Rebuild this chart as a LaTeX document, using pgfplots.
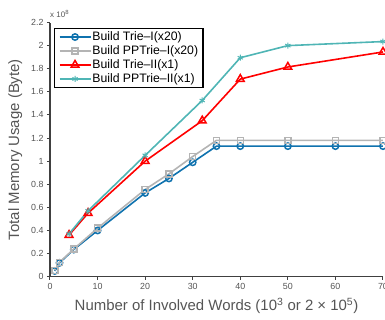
\documentclass[border=0pt]{standalone}
\usepackage{fontspec}
\setmainfont{Liberation Sans}
\usepackage{pgfplots}
\pgfplotsset{compat=1.18}
\definecolor{cblue}{HTML}{0F72AE}
\definecolor{cgray}{HTML}{B4B4B4}
\definecolor{cred}{HTML}{FF0000}
\definecolor{cteal}{HTML}{4FB5B5}
\definecolor{txtgray}{HTML}{555555}
\definecolor{axgray}{HTML}{404040}
\begin{document}
\begin{tikzpicture}
\begin{axis}[
  at={(0,0)}, anchor=south west,
  scale only axis, width=333bp, height=254.2bp,
  xmin=0, xmax=70, ymin=0, ymax=2.2,
  xtick={0,10,...,70},
  ytick={0,0.2,...,2.2},
  yticklabels={0,0.2,0.4,0.6,0.8,1,1.2,1.4,1.6,1.8,2,2.2},
  scaled y ticks=false,
  axis lines*=left,
  axis line style={axgray, line width=1.3bp, -},
  tick align=outside,
  major tick length=3bp,
  tick style={axgray, line width=1bp},
  tick label style={font=\fontsize{8.9}{10}\selectfont, text=txtgray},
  /pgf/number format/assume math mode=true,
  xlabel={Number of Involved Words (10\textsuperscript{3} or 2 × 10\textsuperscript{5})},
  ylabel={Total Memory Usage (Byte)},
  label style={font=\fontsize{15}{17}\selectfont, text=txtgray},
  xlabel style={yshift=-2bp},
  ylabel style={yshift=2bp},
  clip=false,
  legend cell align=left,
  legend style={at={(0.012,0.98)}, anchor=north west,
    draw=black, line width=1.5bp, fill=white,
    font=\fontsize{12.3}{14}\selectfont,
    inner xsep=4bp, inner ysep=2.5bp,
    row sep=1.6bp,
    nodes={inner sep=1bp},
    /tikz/every even column/.append style={column sep=2bp}},
  legend image code/.code={\draw[#1, mark repeat=2, mark phase=2] plot coordinates {(0bp,0bp) (15.5bp,0bp) (31bp,0bp)};},
]
\addplot[cblue, line width=1.6bp, mark=o, mark size=3.2bp, mark options={fill=white, line width=1.5bp}]
  coordinates {(1,0.05)(2,0.12)(5,0.235)(10,0.40)(20,0.725)(25,0.85)(30,0.99)(35,1.13)(40,1.13)(50,1.13)(60,1.13)(70,1.13)};
\addlegendentry{Build Trie--I(x20)}
\addplot[cgray, line width=1.6bp, mark=square, mark size=3bp, mark options={fill=white, line width=1.5bp}]
  coordinates {(1,0.055)(2,0.125)(5,0.24)(10,0.42)(20,0.755)(25,0.89)(30,1.04)(35,1.18)(40,1.18)(50,1.18)(60,1.18)(70,1.18)};
\addlegendentry{Build PPTrie--I(x20)}
\addplot[cred, line width=1.6bp, mark=triangle, mark size=4.5bp, mark options={fill=white, line width=1.5bp}]
  coordinates {(4,0.36)(8,0.55)(20,1.0)(32,1.35)(40,1.71)(50,1.815)(70,1.945)};
\addlegendentry{Build Trie--II(x1)}
\addplot[cteal, line width=1.6bp, mark=asterisk, mark size=3bp, mark options={line width=1bp}]
  coordinates {(4,0.37)(8,0.57)(20,1.05)(32,1.525)(40,1.895)(50,2.0)(70,2.035)};
\addlegendentry{Build PPTrie--II(x1)}
\node[anchor=base west, font=\fontsize{8}{9}\selectfont, text=txtgray, inner sep=0pt] at (rel axis cs:0,1) [yshift=5bp] {x 10\textsuperscript{8}};
\end{axis}
\pgfresetboundingbox
\path (-50bp,-43.3bp) rectangle (335bp,276.7bp);
\end{tikzpicture}
\end{document}
